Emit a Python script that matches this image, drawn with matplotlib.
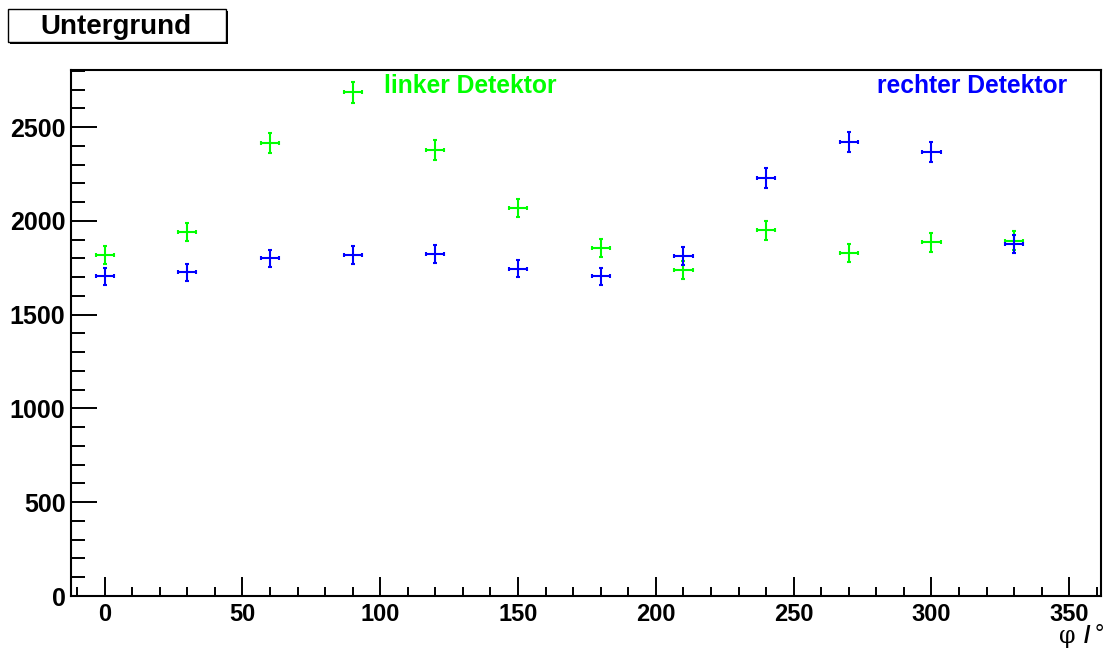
import matplotlib
matplotlib.use("Agg")
import matplotlib.pyplot as plt
from matplotlib.patches import Rectangle
from matplotlib.ticker import MultipleLocator

plt.rcParams['font.family'] = ['Liberation Sans', 'DejaVu Sans']

phi = [0, 30, 60, 90, 120, 150, 180, 210, 240, 270, 300, 330]
phi_err = [3.3] * 12

links = [1820, 1940, 2415, 2685, 2377, 2068, 1855, 1737, 1950, 1830, 1885, 1895]
links_err = [48, 50, 53, 57, 53, 50, 48, 47, 50, 48, 49, 49]

rechts = [1705, 1725, 1800, 1820, 1825, 1745, 1705, 1813, 2227, 2420, 2366, 1876]
rechts_err = [46, 46, 47, 48, 48, 47, 46, 48, 52, 55, 53, 48]

W, H = 1111, 651
fig = plt.figure(figsize=(W / 100, H / 100), dpi=100)
ax = fig.add_axes([71 / W, 1 - 596 / H, (1101 - 71) / W, (596 - 70) / H])

for y, ye, c in [(links, links_err, '#00ff00'), (rechts, rechts_err, '#0000ff')]:
    ax.errorbar(phi, y, xerr=phi_err, yerr=ye, fmt='none', ecolor=c,
                elinewidth=1.5, capsize=1.2, capthick=1.5)

ax.set_xlim(-12.2, 361.5)
ax.set_ylim(0, 2804)
ax.xaxis.set_major_locator(MultipleLocator(50))
ax.xaxis.set_minor_locator(MultipleLocator(10))
ax.yaxis.set_major_locator(MultipleLocator(500))
ax.yaxis.set_minor_locator(MultipleLocator(100))

for s in ax.spines.values():
    s.set_linewidth(1.5)
ax.tick_params(axis='both', which='both', direction='in', top=False, right=False, width=1.4)
ax.tick_params(axis='y', which='major', length=19, pad=4)
ax.tick_params(axis='y', which='minor', length=10)
ax.tick_params(axis='x', which='major', length=13.5, pad=5)
ax.tick_params(axis='x', which='minor', length=6.5)
for lab in ax.get_xticklabels():
    lab.set_fontsize(17)
    lab.set_fontweight('bold')
for lab in ax.get_yticklabels():
    lab.set_fontsize(18)
    lab.set_fontweight('bold')

# axis title: phi / degree
fig.text(1076 / W, 1 - 643 / H, 'φ', ha='right', va='baseline', fontsize=17,
         family=['DejaVu Serif', 'DejaVu Sans'])
fig.text(1090 / W, 1 - 643 / H, '/', ha='right', va='baseline', fontsize=17, fontweight='bold')
fig.text(1104 / W, 1 - 641 / H, '°', ha='right', va='baseline', fontsize=17)

fig.text(557 / W, 1 - 93 / H, 'linker Detektor', color='#00ff00', ha='right',
         va='baseline', fontsize=17.7, fontweight='bold')
fig.text(1067 / W, 1 - 93 / H, 'rechter Detektor', color='#0000ff', ha='right',
         va='baseline', fontsize=17.7, fontweight='bold')

# title box with shadow
fig.patches.append(Rectangle((10 / W, 1 - 44 / H), 218 / W, 33 / H, transform=fig.transFigure,
                             facecolor='black', edgecolor='none'))
fig.patches.append(Rectangle((8 / W, 1 - 42 / H), 218 / W, 33 / H, transform=fig.transFigure,
                             facecolor='white', edgecolor='black', linewidth=1))
fig.text(116 / W, 1 - 34 / H, 'Untergrund', ha='center', va='baseline',
         fontsize=20, fontweight='bold')

fig.savefig('out.png', dpi=100)
